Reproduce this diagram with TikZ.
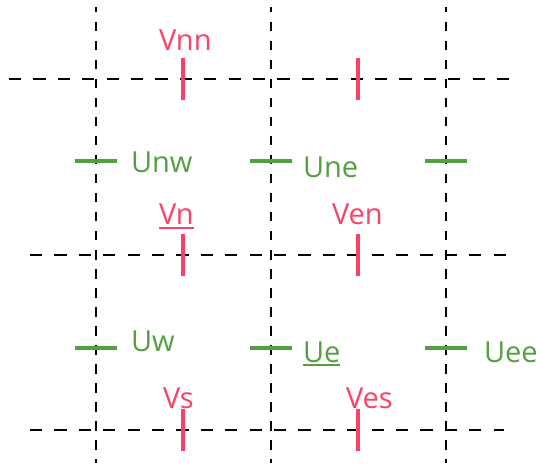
\documentclass[tikz,border=0pt]{standalone}
\usepackage{fontspec}
\setmainfont{Open Sans}
\definecolor{vred}{RGB}{250,66,104}
\definecolor{ugreen}{RGB}{84,158,67}
\tikzset{
  vgrid/.style={black, line width=2pt, dash pattern=on 9.5pt off 9.5pt, dash phase=4pt},
  hgrid/.style={black, line width=2pt, dash pattern=on 12.2pt off 12.2pt},
  vtick/.style={vred, line width=4pt},
  utick/.style={ugreen, line width=4pt},
  vlab/.style={text=vred, font=\fontsize{29}{29}\selectfont, inner sep=0pt, outer sep=0pt, anchor=base west},
  ulab/.style={text=ugreen, font=\fontsize{29}{29}\selectfont, inner sep=0pt, outer sep=0pt, anchor=base west},
}
\begin{document}
\begin{tikzpicture}[x=1pt,y=-1pt]
\useasboundingbox (0,0) rectangle (536,468);
% grid
\foreach \x in {96,271,446} \draw[vgrid] (\x,7) -- (\x,463);
\draw[hgrid] (9,79) -- (510,79);
\draw[hgrid] (30,255) -- (510,255);
\draw[hgrid] (30,430) -- (504,430);
% V ticks
\foreach \y in {79,255,430} {
  \draw[vtick] (183,\y-21) -- (183,\y+21);
  \draw[vtick] (358,\y-21) -- (358,\y+21);
}
% U ticks
\foreach \x in {96,271,446} {
  \draw[utick] (\x-21,161.5) -- (\x+21,161.5);
  \draw[utick] (\x-21,347.5) -- (\x+21,347.5);
}
% labels
\node[vlab] (vnn) at (159,51) {Vnn};
\node[ulab] (unw) at (131,173) {Unw};
\node[ulab] (une) at (303,178) {Une};
\node[vlab] (vn) at (159,225) {Vn};
\node[vlab] (ven) at (332,225) {Ven};
\node[ulab] (uw) at (131,351) {Uw};
\node[ulab] (ue) at (303,362) {Ue};
\node[ulab] (uee) at (484,362) {Uee};
\node[vlab] (vs) at (163,408) {Vs};
\node[vlab] (ves) at (346,408) {Ves};
% underlines
\draw[vred, line width=1.5pt] ([yshift=-3pt]vn.base west) -- ([yshift=-3pt]vn.base east);
\draw[ugreen, line width=1.5pt] ([yshift=-3pt]ue.base west) -- ([yshift=-3pt]ue.base east);
\end{tikzpicture}
\end{document}
